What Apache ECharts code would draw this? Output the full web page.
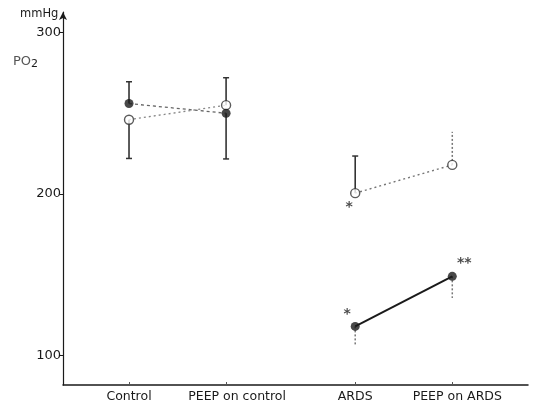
<!DOCTYPE html>
<html><head><meta charset="utf-8">
<script src="https://cdn.jsdelivr.net/npm/echarts@6/dist/echarts.min.js"></script>
<style>html,body{margin:0;padding:0;background:#fff}#c{width:547px;height:403px}</style>
</head><body><div id="c"></div>
<script>
// ---- data ----
const categories = ['Control', 'PEEP on control', 'ARDS', 'PEEP on ARDS'];
const categoryPos = [1, 2, 3.33, 4.33];
const filledMean = [256, 250, 118, 149];
const openMean = [246, 255, 200.5, 218];
const filledBound = [269.5, 221.7, 105.6, 135.6];
const openBound = [222, 272, 223.5, 238.5];
const filledStars = ['', '', '*', '**'];
const openStars = ['', '', '*', ''];
const yTickValues = [100, 200, 300];

// ---- styles (not data) ----
const ink = '#1a1a1a';
const filledBarDashed = [false, false, true, true];
const openBarDashed = [false, false, false, true];
const barCap = [true, true, true, true];
const labelShift = [0, 22, 0, 10];

function pts(means) { return means.map((v, i) => [categoryPos[i], v]); }
function errData(means, bounds, dashed) {
  return means.map((m, i) => ({ value: [categoryPos[i], m, bounds[i], dashed[i] ? 1 : 0, barCap[i] && !dashed[i] ? 1 : 0] }));
}
function renderErr(params, api) {
  const p0 = api.coord([api.value(0), api.value(1)]);
  const p1 = api.coord([api.value(0), api.value(2)]);
  const dashed = api.value(3) === 1;
  const cap = api.value(4) === 1;
  const st = { stroke: dashed ? '#777' : '#333', lineWidth: dashed ? 1.5 : 1.6, lineDash: dashed ? [2, 2] : null };
  const ch = [{ type: 'line', shape: { x1: p0[0], y1: p0[1], x2: p1[0], y2: p1[1] }, style: st }];
  if (cap) ch.push({ type: 'line', shape: { x1: p1[0] - 3, y1: p1[1], x2: p1[0] + 3, y2: p1[1] }, style: { stroke: '#333', lineWidth: 1.5 } });
  return { type: 'group', children: ch };
}
function labelled(means, stars, offsets) {
  return means.map((v, i) => ({
    value: [categoryPos[i], v],
    label: { show: !!stars[i], formatter: stars[i], position: 'inside', offset: offsets[i], color: ink, fontSize: 14, fontWeight: 'bold', fontFamily: 'DejaVu Sans' }
  }));
}

const chart = echarts.init(document.getElementById('c'), null, { renderer: 'canvas' });
const font = 'DejaVu Sans';
const rich = {};
labelShift.forEach((s, i) => { rich['l' + i] = { padding: [0, 0, 0, s], fontFamily: font, fontSize: 12.5, color: ink }; });
chart.setOption({
  animation: false,
  backgroundColor: '#fff',
  grid: { left: 63, right: 19, top: 12, bottom: 18 },
  xAxis: {
    type: 'value', min: 0.32, max: 5.11,
    splitLine: { show: false },
    axisLine: { lineStyle: { color: ink, width: 1.5 } },
    axisTick: { inside: true, length: 3, customValues: categoryPos, lineStyle: { color: '#555' } },
    axisLabel: {
      customValues: categoryPos, color: ink, fontFamily: font, fontSize: 12.5, margin: 5, rich: rich,
      formatter: function (v) {
        let best = 0; categoryPos.forEach((p, i) => { if (Math.abs(p - v) < Math.abs(categoryPos[best] - v)) best = i; });
        return '{l' + best + '|' + categories[best] + '}';
      }
    }
  },
  yAxis: {
    type: 'value', min: 81.7, max: 312.7,
    splitLine: { show: false },
    axisLine: { symbol: ['none', 'arrow'], symbolSize: [6, 8], lineStyle: { color: ink, width: 1.2 } },
    axisTick: { inside: false, length: 3, customValues: yTickValues, lineStyle: { color: ink } },
    axisLabel: { customValues: yTickValues, color: ink, fontFamily: font, fontSize: 13, margin: 2 }
  },
  graphic: [
    { type: 'text', left: 20, top: 8, style: { text: 'mmHg', fill: ink, font: '11.5px "DejaVu Sans"' } },
    { type: 'text', left: 13, top: 55, style: { text: 'PO{s|2}', fill: '#555', font: '13px "DejaVu Sans"', rich: { s: { fontSize: 11, padding: [6, 0, 0, 0], fontFamily: 'DejaVu Sans', fill: ink } } } }
  ],
  series: [
    { type: 'custom', renderItem: renderErr, data: errData(filledMean, filledBound, filledBarDashed), z: 1, silent: true },
    { type: 'custom', renderItem: renderErr, data: errData(openMean, openBound, openBarDashed), z: 1, silent: true },
    { type: 'line', data: pts(filledMean).slice(0, 2), symbol: 'none', lineStyle: { color: '#666', width: 1.3, type: [3, 3] }, z: 2 },
    { type: 'line', data: pts(openMean).slice(0, 2), symbol: 'none', lineStyle: { color: '#888', width: 1.3, type: [2, 3] }, z: 2 },
    { type: 'line', data: pts(openMean).slice(2), symbol: 'none', lineStyle: { color: '#777', width: 1.4, type: [2, 3] }, z: 2 },
    { type: 'line', data: pts(filledMean).slice(2), symbol: 'none', lineStyle: { color: ink, width: 2 }, z: 2 },
    { type: 'scatter', data: labelled(openMean, openStars, [[-6, 14], [0, 0], [-6, 14], [0, 0]]), symbol: 'circle', symbolSize: 9,
      itemStyle: { color: '#fff', borderColor: '#333', borderWidth: 1.4 }, z: 4 },
    { type: 'scatter', data: labelled(filledMean, filledStars, [[0, 0], [0, 0], [-8, -12], [12, -13]]), symbol: 'circle', symbolSize: 9,
      itemStyle: { color: ink }, z: 5 }
  ]
});
</script></body></html>
